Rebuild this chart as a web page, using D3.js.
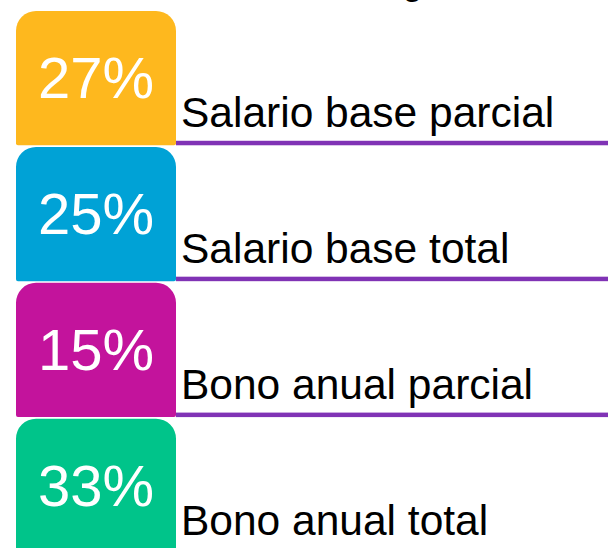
<!DOCTYPE html>
<html>
<head>
<meta charset="utf-8">
<script src="https://cdn.jsdelivr.net/npm/d3@7"></script>
<style>
  html, body { margin: 0; padding: 0; background: #fff; overflow: hidden; }
  text { font-family: "Liberation Sans", Arial, sans-serif; }
</style>
</head>
<body>
<svg id="chart"></svg>
<script>
// Data
const categories = ["Salario base parcial", "Salario base total", "Bono anual parcial", "Bono anual total"];
const values = [27, 25, 15, 33];
const colors = ["#FEB81E", "#00A2D6", "#C3139C", "#00C48A"];
const titleText = "Estructura de ingresos";

const width = 608;
const height = 548;

const svg = d3.select("#chart")
    .attr("width", width)
    .attr("height", height);

// Title is cut off by the top of the picture, only a descender shows
svg.append("text")
    .attr("x", 502)
    .attr("y", -4)
    .attr("text-anchor", "end")
    .style("font-size", "30px")
    .style("font-weight", "bold")
    .attr("fill", "#000")
    .text(titleText);

//Scales
const y = d3.scaleBand()
    .domain(categories)
    .range([11, 553])
    .paddingInner(0.012)
    .paddingOuter(0);

const boxX = 16;
const boxW = 160;
const rTop = 20;
const rBot = 2;

// box with big rounded top corners and small bottom ones
function boxPath(x, y0, w, h) {
    const p = d3.path();
    p.moveTo(x + rTop, y0);
    p.lineTo(x + w - rTop, y0);
    p.arcTo(x + w, y0, x + w, y0 + rTop, rTop);
    p.lineTo(x + w, y0 + h - rBot);
    p.arcTo(x + w, y0 + h, x + w - rBot, y0 + h, rBot);
    p.lineTo(x + rBot, y0 + h);
    p.arcTo(x, y0 + h, x, y0 + h - rBot, rBot);
    p.lineTo(x, y0 + rTop);
    p.arcTo(x, y0, x + rTop, y0, rTop);
    p.closePath();
    return p.toString();
}

const rows = svg.selectAll("g.row")
    .data(categories.map((c, i) => ({ label: c, value: values[i], color: colors[i] })))
    .enter()
    .append("g")
    .attr("class", "row");

// purple underline
rows.append("rect")
    .attr("x", boxX + boxW)
    .attr("y", d => y(d.label) + y.bandwidth() - 4.5)
    .attr("width", width - boxX - boxW)
    .attr("height", 4.5)
    .attr("fill", "#8033B5");

rows.append("path")
    .attr("d", d => boxPath(boxX, y(d.label), boxW, y.bandwidth()))
    .attr("fill", d => d.color);

rows.append("text")
    .attr("x", boxX + boxW / 2)
    .attr("y", d => y(d.label) + 87)
    .attr("text-anchor", "middle")
    .attr("fill", "#fff")
    .style("font-size", "58px")
    .text(d => d.value + "%");

rows.append("text")
    .attr("x", 181)
    .attr("y", d => y(d.label) + 116)
    .attr("fill", "#000")
    .style("font-size", "42.5px")
    .text(d => d.label);
</script>
</body>
</html>
